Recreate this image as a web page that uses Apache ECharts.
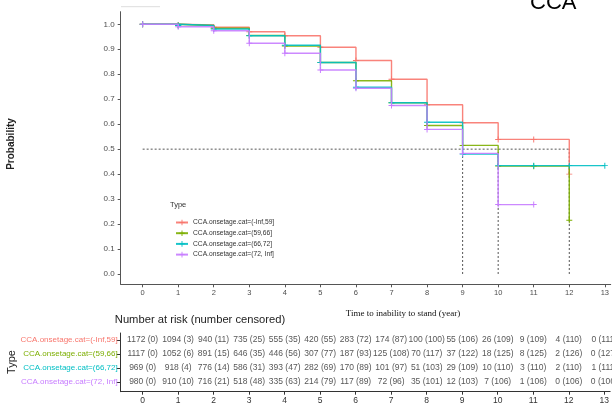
<!DOCTYPE html>
<html>
<head>
<meta charset="utf-8">
<script src="https://cdn.jsdelivr.net/npm/echarts@6/dist/echarts.min.js"></script>
<style>html,body{margin:0;padding:0;background:#fff}#c{width:612px;height:409px}</style>
</head>
<body>
<div id="c"></div>
<script>
// ---- data ----
const groupNames = ['CCA.onsetage.cat=(-Inf,59]', 'CCA.onsetage.cat=(59,66]', 'CCA.onsetage.cat=(66,72]', 'CCA.onsetage.cat=(72, Inf]'];
const groupColors = ['#F8766D', '#7CAE00', '#00BFC4', '#C77CFF'];
const yearTicks = [0, 1, 2, 3, 4, 5, 6, 7, 8, 9, 10, 11, 12, 13];
const probTicks = [0, 0.1, 0.2, 0.3, 0.4, 0.5, 0.6, 0.7, 0.8, 0.9, 1.0];
// survival estimate at t = 0,1,2,... (value holding from t onwards)
const survRed    = [1, 0.997, 0.988, 0.970, 0.954, 0.908, 0.855, 0.780, 0.678, 0.606, 0.539, 0.539, 0.400];
const survGreen  = [1, 0.995, 0.984, 0.955, 0.913, 0.847, 0.774, 0.686, 0.595, 0.515, 0.432, 0.432, 0.215];
const survTeal   = [1, 0.995, 0.981, 0.954, 0.916, 0.847, 0.748, 0.686, 0.608, 0.480, 0.434, 0.434, 0.434, 0.434];
const survPurple = [1, 0.990, 0.974, 0.924, 0.884, 0.817, 0.744, 0.675, 0.579, 0.483, 0.278, 0.278];
const medians = [12, 10, 9, 9];
// number at risk (number censored) per year 0..13
const atRiskRed    = [1172, 1094, 940, 735, 555, 420, 283, 174, 100, 55, 26, 9, 4, 0];
const censRed      = [0, 3, 11, 25, 35, 55, 72, 87, 100, 106, 109, 109, 110, 111];
const atRiskGreen  = [1117, 1052, 891, 646, 446, 307, 187, 125, 70, 37, 18, 8, 2, 0];
const censGreen    = [0, 6, 15, 35, 56, 77, 93, 108, 117, 122, 125, 125, 126, 127];
const atRiskTeal   = [969, 918, 776, 586, 393, 282, 170, 101, 51, 29, 10, 3, 2, 1];
const censTeal     = [0, 4, 14, 31, 47, 69, 89, 97, 103, 109, 110, 110, 110, 111];
const atRiskPurple = [980, 910, 716, 518, 335, 214, 117, 72, 35, 12, 7, 1, 0, 0];
const censPurple   = [0, 10, 21, 48, 63, 79, 89, 96, 101, 103, 106, 106, 106, 106];

// ---- build ----
const FONT = 'Liberation Sans';
const survAll = [survRed, survGreen, survTeal, survPurple];
const riskAll = [[atRiskRed, censRed], [atRiskGreen, censGreen], [atRiskTeal, censTeal], [atRiskPurple, censPurple]];
const PLUS = 'path://M0,4.2H10V5.8H0Z M4.2,0H5.8V10H4.2Z';
const XMIN = -0.617, XMAX = 13.165;

const series = [];
survAll.forEach((arr, g) => {
  series.push({
    name: groupNames[g], type: 'line', step: 'end', xAxisIndex: 0, yAxisIndex: 0,
    data: arr.map((v, i) => [yearTicks[i], v]),
    symbol: PLUS, symbolSize: 6, showAllSymbol: true,
    lineStyle: { width: 1.4, color: groupColors[g], opacity: 0.9 },
    itemStyle: { color: groupColors[g] },
    emphasis: { disabled: true }, animation: false, z: 3 + g
  });
});
const maxMed = Math.max(...medians);
const dashStyle = { color: '#555', width: 1, type: [2, 2] };
series.push({ type: 'line', xAxisIndex: 0, yAxisIndex: 0, data: [[0, 0.5], [maxMed, 0.5]], symbol: 'none', lineStyle: dashStyle, silent: true, animation: false, z: 2 });
[...new Set(medians)].forEach(m => {
  series.push({ type: 'line', xAxisIndex: 0, yAxisIndex: 0, data: [[m, 0], [m, 0.5]], symbol: 'none', lineStyle: dashStyle, silent: true, animation: false, z: 2 });
});
const riskData = [];
riskAll.forEach((pair, g) => {
  pair[0].forEach((n, i) => riskData.push([yearTicks[i], g, n + ' (' + pair[1][i] + ')']));
});
series.push({
  type: 'scatter', xAxisIndex: 1, yAxisIndex: 1, data: riskData, symbolSize: 1,
  itemStyle: { color: 'rgba(0,0,0,0)' }, silent: true, animation: false, clip: false,
  emphasis: { disabled: true },
  label: { show: true, position: 'inside', formatter: p => p.data[2], fontSize: 8.5, color: '#2a2a2a', fontFamily: FONT,
           textBorderWidth: 0, textBorderColor: 'transparent', textShadowBlur: 0 },
  labelLayout: { hideOverlap: false }
});

const chart = echarts.init(document.getElementById('c'), null, { renderer: 'canvas' });
chart.setOption({
  animation: false,
  backgroundColor: '#fff',
  textStyle: { fontFamily: FONT },
  grid: [
    { left: 120.7, top: 11.7, width: 491.3, height: 272.6 },
    { left: 120.7, top: 333, width: 491.3, height: 58.7 }
  ],
  xAxis: [
    { type: 'value', gridIndex: 0, min: XMIN, max: XMAX,
      axisLine: { show: true, onZero: false, lineStyle: { color: '#555', width: 1 } },
      axisTick: { show: true, customValues: yearTicks, length: 3, lineStyle: { color: '#555' } },
      axisLabel: { customValues: yearTicks, fontSize: 7.5, color: '#4d4d4d', margin: 5, fontFamily: FONT },
      splitLine: { show: false } },
    { type: 'value', gridIndex: 1, min: XMIN, max: XMAX,
      axisLine: { show: true, onZero: false, lineStyle: { color: '#333', width: 1 } },
      axisTick: { show: true, customValues: yearTicks, length: 3, lineStyle: { color: '#333' } },
      axisLabel: { customValues: yearTicks, fontSize: 8.5, color: '#333', margin: 4, fontFamily: FONT },
      splitLine: { show: false } }
  ],
  yAxis: [
    { type: 'value', gridIndex: 0, min: -0.0413, max: 1.0505,
      axisLine: { show: true, onZero: false, lineStyle: { color: '#555', width: 1 } },
      axisTick: { show: true, customValues: probTicks, length: 3, lineStyle: { color: '#555' } },
      axisLabel: { customValues: probTicks, formatter: v => Number(v).toFixed(1), fontSize: 8, color: '#4d4d4d', margin: 6, fontFamily: FONT },
      splitLine: { show: false } },
    { type: 'value', gridIndex: 1, min: -0.5, max: 3.693, inverse: true,
      axisLine: { show: true, onZero: false, lineStyle: { color: '#333', width: 1 } },
      axisTick: { show: true, customValues: [0, 1, 2, 3], length: 4, lineStyle: { color: '#333' } },
      axisLabel: { customValues: [0, 1, 2, 3], formatter: v => groupNames[Math.round(v)], color: v => groupColors[Math.round(Number(v))], fontSize: 8, margin: 3, fontFamily: FONT },
      splitLine: { show: false } }
  ],
  legend: {
    data: groupNames, orient: 'vertical', left: 170, top: 214,
    itemWidth: 12, itemHeight: 7, itemGap: 3.7,
    textStyle: { fontSize: 6.7, color: '#333', fontFamily: FONT }, selectedMode: false
  },
  graphic: [
    { type: 'text', left: 530, top: -8, style: { text: 'CCA', font: '22px "Liberation Sans"', fill: '#000' } },
    { type: 'line', shape: { x1: 121, y1: 6.7, x2: 160, y2: 6.7 }, style: { stroke: '#ddd', lineWidth: 1 } },
    { type: 'text', x: 11, y: 144, rotation: Math.PI / 2, style: { text: 'Probability', font: 'bold 10px "Liberation Sans"', fill: '#222', align: 'center', verticalAlign: 'middle' } },
    { type: 'text', x: 170, y: 205, style: { text: 'Type', font: '7.5px "Liberation Sans"', fill: '#333', verticalAlign: 'middle' } },
    { type: 'text', x: 403, y: 314, style: { text: 'Time to inability to stand (year)', font: '9px "Liberation Serif"', fill: '#111', align: 'center', verticalAlign: 'middle' } },
    { type: 'text', x: 200, y: 320, style: { text: 'Number at risk (number censored)', font: '11.2px "Liberation Sans"', fill: '#222', align: 'center', verticalAlign: 'middle' } },
    { type: 'text', x: 12, y: 362, rotation: Math.PI / 2, style: { text: 'Type', font: '11px "Liberation Sans"', fill: '#222', align: 'center', verticalAlign: 'middle' } }
  ],
  series: series
});
</script>
</body>
</html>
